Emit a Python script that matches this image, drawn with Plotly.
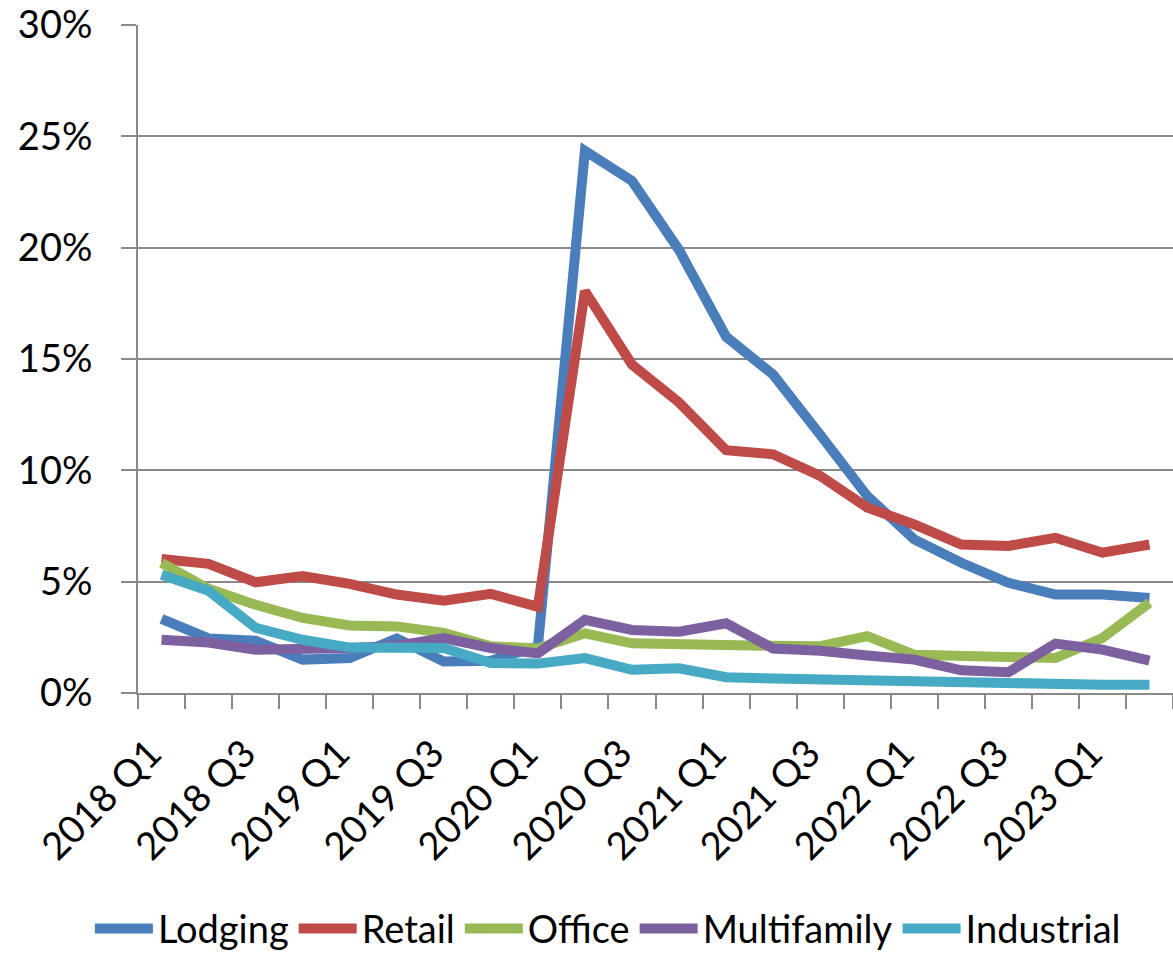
import plotly.graph_objects as go

# Quarterly categories and the subset that carries a visible label
quarters = [f"{y} Q{q}" for y in range(2018, 2024) for q in range(1, 5)][:22]
tick_text = [q if i % 2 == 0 else "" for i, q in enumerate(quarters)]

# Rates by property type, in percent
lodging = [3.33, 2.45, 2.35, 1.50, 1.57, 2.45, 1.42, 1.45, 2.10, 24.35, 23.00, 19.90,
           16.00, 14.30, 11.60, 8.85, 6.90, 5.85, 4.95, 4.42, 4.42, 4.27]
retail = [6.02, 5.80, 4.97, 5.25, 4.90, 4.42, 4.15, 4.45, 3.87, 18.05, 14.75, 13.05,
          10.90, 10.72, 9.75, 8.33, 7.57, 6.67, 6.60, 6.97, 6.30, 6.67]
office = [5.84, 4.68, 3.96, 3.37, 3.03, 2.99, 2.70, 2.10, 2.00, 2.68, 2.23, 2.16,
          2.16, 2.12, 2.10, 2.55, 1.72, 1.68, 1.57, 1.57, 2.47, 4.05]
multifamily = [2.39, 2.27, 1.94, 1.94, 2.02, 2.12, 2.47, 2.02, 1.78, 3.28, 2.83, 2.75,
               3.13, 2.00, 1.90, 1.68, 1.50, 1.02, 0.93, 2.22, 1.95, 1.45]
industrial = [5.31, 4.59, 2.93, 2.39, 2.04, 1.98, 2.02, 1.35, 1.32, 1.57, 1.04, 1.11,
              0.71, 0.65, 0.60, 0.52, 0.48, 0.48, 0.42, 0.42, 0.37, 0.37]

series = [
    ("Lodging", lodging, "#4A7EBB"),
    ("Retail", retail, "#BE4B48"),
    ("Office", office, "#98B954"),
    ("Multifamily", multifamily, "#7D60A0"),
    ("Industrial", industrial, "#46AAC5"),
]

FONT = "Lato, Calibri, sans-serif"
GRID = "#898989"

fig = go.Figure()
for name, vals, color in series:
    fig.add_trace(go.Scatter(
        x=quarters, y=vals, name=name, mode="lines",
        line=dict(color=color, width=10),
    ))

fig.update_layout(
    width=1173, height=954,
    margin=dict(l=138, r=0, t=25, b=261, autoexpand=False),
    paper_bgcolor="white", plot_bgcolor="white",
    font=dict(family=FONT, size=38, color="black"),
    showlegend=True,
    legend=dict(
        orientation="h", x=0.454, xanchor="center", y=-0.353, yanchor="middle",
        font=dict(family=FONT, size=38, color="black"),
        itemwidth=58, tracegroupgap=0, borderwidth=0,
    ),
    xaxis=dict(
        type="category", categoryorder="array", categoryarray=quarters,
        range=[-0.5, 21.5],
        tickmode="array", tickvals=quarters, ticktext=tick_text,
        tickangle=-45, tickson="boundaries",
        ticks="outside", ticklen=14, tickwidth=2, tickcolor=GRID,
        showline=True, linecolor=GRID, linewidth=2,
        showgrid=False, zeroline=False,
        ticklabelstandoff=21, ticklabelshift=-11,
        tickfont=dict(family=FONT, size=38, color="black"),
    ),
    yaxis=dict(
        range=[0, 30], tickmode="linear", tick0=0, dtick=5, ticksuffix="%",
        ticks="outside", ticklen=15, tickwidth=2, tickcolor=GRID,
        showline=True, linecolor=GRID, linewidth=2,
        showgrid=True, gridcolor=GRID, gridwidth=2,
        zeroline=False, ticklabelstandoff=21,
        tickfont=dict(family=FONT, size=38, color="black"),
    ),
)

fig.write_html("out.html")
